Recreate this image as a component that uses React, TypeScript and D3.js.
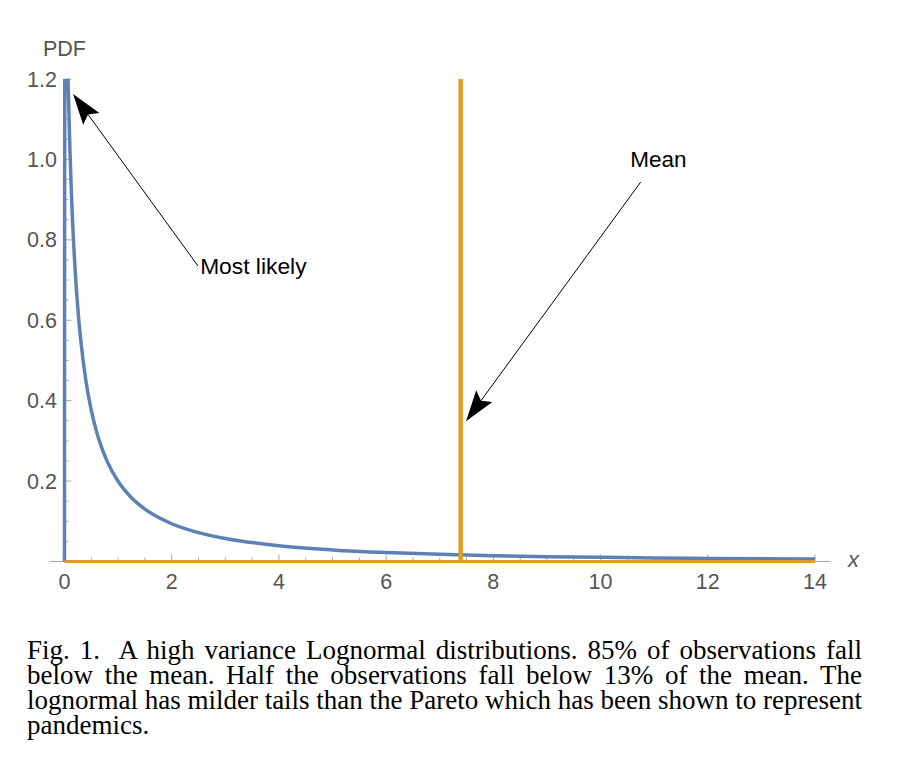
import React, { useLayoutEffect, useRef, useState } from "react";
import * as d3 from "d3";

// ---- Data ----
const pdfX = [0, 0.0001, 0.0005, 0.001, 0.002, 0.005, 0.01, 0.02, 0.03, 0.05, 0.07, 0.1, 0.13, 0.15, 0.2, 0.25, 0.3, 0.4, 0.5, 0.6, 0.7, 0.8, 1, 1.25, 1.5, 2, 2.5, 3, 4, 5, 6, 7, 8, 9, 10, 11, 12, 13, 14];
const pdfY = [0, 0.05, 0.291, 0.512, 0.798, 1.194, 1.408, 1.473, 1.43, 1.3, 1.177, 1.028, 0.912, 0.848, 0.7215, 0.6275, 0.5547, 0.449, 0.3757, 0.3218, 0.2805, 0.2478, 0.1995, 0.1586, 0.1303, 0.0939, 0.0718, 0.0572, 0.0392, 0.0289, 0.0223, 0.0178, 0.0145, 0.0121, 0.0103, 0.0088, 0.0077, 0.0067, 0.006];
const meanValue = 7.39;
const xDomain = [0, 14];
const yDomain = [0, 1.2];
const xMajorTicks = [0, 2, 4, 6, 8, 10, 12, 14];
const xTickLabels = ["0", "2", "4", "6", "8", "10", "12", "14"];
const yMajorTicks = [0.2, 0.4, 0.6, 0.8, 1.0, 1.2];
const yTickLabels = ["0.2", "0.4", "0.6", "0.8", "1.0", "1.2"];
const annotationLabels = ["Most likely", "Mean"];
// arrows in data units: [tailX, tailY, tipX, tipY]
const annotationArrows = [
  [2.49, 0.735, 0.16, 1.163],
  [10.75, 0.944, 7.49, 0.349],
];
// label anchors in data units
const annotationAnchors = [
  [2.53, 0.716],
  [11.08, 0.98],
];
const captionLines = [
  "Fig. 1.  A high variance Lognormal distributions. 85% of observations fall",
  "below the mean. Half the observations fall below 13% of the mean. The",
  "lognormal has milder tails than the Pareto which has been shown to represent",
  "pandemics.",
];

const W = 914;
const H = 778;
const BLUE = "#5E81B5";
const ORANGE = "#E19C24";
const SANS = "'Liberation Sans', Arial, Helvetica, sans-serif";
const SERIF = "'Liberation Serif', 'Times New Roman', serif";

const CAP_LEFT = 27;
const CAP_RIGHT = 862;

function Caption() {
  const refs = useRef<(SVGTextElement | null)[]>([]);
  const [spacing, setSpacing] = useState<number[]>(captionLines.map(() => 0));
  useLayoutEffect(() => {
    const s = captionLines.map((line, i) => {
      if (i === captionLines.length - 1) return 0;
      const el = refs.current[i];
      if (!el) return 0;
      const w = el.getComputedTextLength();
      const n = (line.match(/ /g) || []).length;
      return n ? (CAP_RIGHT - CAP_LEFT - w) / n : 0;
    });
    setSpacing(s);
  }, []);
  return (
    <g>
      {captionLines.map((line, i) => (
        <text
          key={i}
          ref={(el) => {
            refs.current[i] = el;
          }}
          x={CAP_LEFT}
          y={659 + i * 25}
          fontFamily={SERIF}
          fontSize={27}
          fill="#000"
          style={{ whiteSpace: "pre", wordSpacing: `${spacing[i]}px` }}
        >
          {line}
        </text>
      ))}
    </g>
  );
}

export default function App() {
  const x = d3.scaleLinear().domain(xDomain).range([64.5, 815]);
  const y = d3.scaleLinear().domain(yDomain).range([561.5, 79]);

  const pts: [number, number][] = pdfX.map((v, i) => [v, pdfY[i]]);
  const line = d3
    .line<[number, number]>()
    .x((d) => x(d[0]))
    .y((d) => y(d[1]))
    .curve(d3.curveMonotoneX);

  const xMinor = d3.range(xDomain[0], xDomain[1] + 0.001, 0.5);
  const yMinor = d3.range(0.05, yDomain[1] + 0.001, 0.05);
  const isMajor = (v: number, step: number) => Math.abs(v / step - Math.round(v / step)) < 1e-6;

  const axisColor = "#a6a6a6";
  const labelColor = "#555";

  const arrowHead = (a: number[]) => {
    const x1 = x(a[0]), y1 = y(a[1]), x2 = x(a[2]), y2 = y(a[3]);
    const dx = x2 - x1, dy = y2 - y1;
    const len = Math.hypot(dx, dy);
    const ux = dx / len, uy = dy / len;
    const L = 31, hw = 10;
    const bx = x2 - ux * L, by = y2 - uy * L;
    const nx = -uy, ny = ux;
    const notchX = x2 - ux * L * 0.82, notchY = y2 - uy * L * 0.82;
    return {
      line: [x1, y1, notchX, notchY],
      poly: `${x2},${y2} ${bx + nx * hw},${by + ny * hw} ${notchX},${notchY} ${bx - nx * hw},${by - ny * hw}`,
    };
  };

  return (
    <svg
      width={W}
      height={H}
      style={{ position: "absolute", left: 0, top: 0, background: "#fff" }}
    >
      <defs>
        <clipPath id="plotClip">
          <rect x={x(0) - 5} y={y(1.2)} width={x(14) - x(0) + 10} height={y(0) - y(1.2) + 5} />
        </clipPath>
      </defs>
      <rect x={0} y={0} width={W} height={H} fill="#fff" />

      {/* axes */}
      <line x1={50} x2={830} y1={y(0)} y2={y(0)} stroke={axisColor} strokeWidth={1} />
      <line x1={x(0)} x2={x(0)} y1={y(0)} y2={y(1.2)} stroke={axisColor} strokeWidth={1} />
      {xMinor.map((v, i) => (
        <line
          key={"xt" + i}
          x1={x(v)}
          x2={x(v)}
          y1={y(0)}
          y2={y(0) - (isMajor(v, 2) ? 7 : 4)}
          stroke={axisColor}
          strokeWidth={1}
        />
      ))}
      {yMinor.map((v, i) => (
        <line
          key={"yt" + i}
          x1={x(0)}
          x2={x(0) + (isMajor(v, 0.2) ? 7 : 4)}
          y1={y(v)}
          y2={y(v)}
          stroke={axisColor}
          strokeWidth={1}
        />
      ))}
      {xMajorTicks.map((v, i) => (
        <text
          key={"xl" + i}
          x={x(v)}
          y={589}
          textAnchor="middle"
          fontFamily={SANS}
          fontSize={21.5}
          fill={labelColor}
        >
          {xTickLabels[i]}
        </text>
      ))}
      {yMajorTicks.map((v, i) => (
        <text
          key={"yl" + i}
          x={57}
          y={y(v) + 7.5}
          textAnchor="end"
          fontFamily={SANS}
          fontSize={21.5}
          fill={labelColor}
        >
          {yTickLabels[i]}
        </text>
      ))}
      <text x={43} y={56} fontFamily={SANS} fontSize={21.5} fill={labelColor}>
        PDF
      </text>
      <text x={848} y={567} fontFamily={SANS} fontSize={22} fontStyle="italic" fill={labelColor}>
        x
      </text>

      {/* curves */}
      <g clipPath="url(#plotClip)">
        <path d={line(pts) || ""} fill="none" stroke={BLUE} strokeWidth={3.5} strokeLinejoin="round" />
        <line x1={x(0)} x2={x(14)} y1={y(0)} y2={y(0)} stroke={ORANGE} strokeWidth={3} />
        <line x1={x(meanValue)} x2={x(meanValue)} y1={y(0)} y2={y(1.2)} stroke={ORANGE} strokeWidth={4.5} />
      </g>

      {/* annotations */}
      {annotationArrows.map((a, i) => {
        const h = arrowHead(a);
        return (
          <g key={"ar" + i}>
            <line x1={h.line[0]} y1={h.line[1]} x2={h.line[2]} y2={h.line[3]} stroke="#000" strokeWidth={1} />
            <polygon points={h.poly} fill="#000" />
          </g>
        );
      })}
      <text
        x={x(annotationAnchors[0][0])}
        y={y(annotationAnchors[0][1])}
        fontFamily={SANS}
        fontSize={22.8}
        fill="#000"
      >
        {annotationLabels[0]}
      </text>
      <text
        x={x(annotationAnchors[1][0])}
        y={y(annotationAnchors[1][1])}
        textAnchor="middle"
        fontFamily={SANS}
        fontSize={22.5}
        fill="#000"
      >
        {annotationLabels[1]}
      </text>

      <Caption />
    </svg>
  );
}
